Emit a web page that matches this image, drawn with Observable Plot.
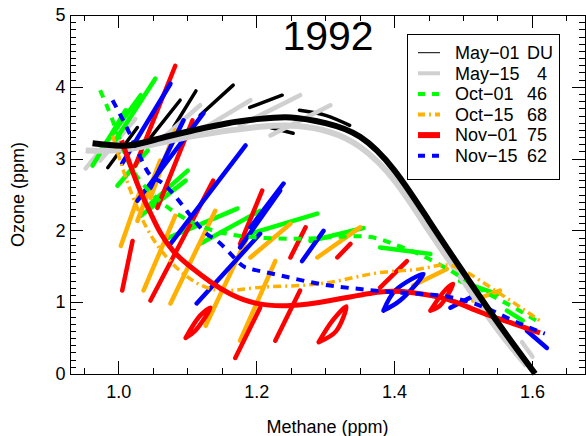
<!DOCTYPE html>
<html><head><meta charset="utf-8">
<script src="https://cdn.jsdelivr.net/npm/d3@7"></script>
<script src="https://cdn.jsdelivr.net/npm/@observablehq/plot@0.6"></script>
<style>
body{margin:0;background:#fff;}
#chart{position:relative;width:586px;height:436px;}
</style>
</head><body><div id="chart"></div>
<script>
// ---------- data ----------
const seriesNames = ["May-01","May-15","Oct-01","Oct-15","Nov-01","Nov-15"];
const legendLabels = ["May\u221201","May\u221215","Oct\u221201","Oct\u221215","Nov\u221201","Nov\u221215"];
const legendDU = ["DU","4","46","68","75","62"];
const title = "1992";
const xLabel = "Methane (ppm)";
const yLabel = "Ozone (ppm)";
const xMajorTicks = [1.0, 1.2, 1.4, 1.6];
const xMinorTicks = [0.95,1.05,1.1,1.15,1.25,1.3,1.35,1.45,1.5,1.55,1.65];
const yMajorTicks = [0,1,2,3,4,5];
const yMinorTicks = [0.1,0.2,0.3,0.4,0.5,0.6,0.7,0.8,0.9,1.1,1.2,1.3,1.4,1.5,1.6,1.7,1.8,1.9,2.1,2.2,2.3,2.4,2.5,2.6,2.7,2.8,2.9,3.1,3.2,3.3,3.4,3.5,3.6,3.7,3.8,3.9,4.1,4.2,4.3,4.4,4.5,4.6,4.7,4.8,4.9];

// fitted curves [methane, ozone]
const fitMay01 = [[0.962,3.22],[1.013,3.19],[1.060,3.29],[1.108,3.40],[1.158,3.50],[1.205,3.56],[1.250,3.58],[1.300,3.50],[1.350,3.31],[1.400,2.84],[1.450,2.14],[1.500,1.42],[1.550,0.72],[1.604,0.01]];
const fitMay15 = [[0.952,3.12],[1.013,3.14],[1.108,3.32],[1.205,3.45],[1.260,3.46],[1.305,3.38],[1.350,3.17],[1.400,2.70],[1.450,2.00],[1.500,1.30],[1.550,0.62],[1.592,0.12]];
const fitOct01 = [[0.973,3.96],[0.991,3.54],[1.010,3.05],[1.031,2.70],[1.068,2.35],[1.118,2.07],[1.176,1.93],[1.249,1.89],[1.307,1.91],[1.360,1.92],[1.398,1.82],[1.437,1.67],[1.484,1.43],[1.524,1.19],[1.568,0.96],[1.611,0.72]];
const fitOct15 = [[0.991,3.33],[1.002,2.98],[1.017,2.56],[1.039,2.07],[1.068,1.65],[1.104,1.33],[1.147,1.17],[1.201,1.21],[1.263,1.24],[1.321,1.31],[1.379,1.42],[1.437,1.47],[1.481,1.52],[1.524,1.31],[1.568,1.03],[1.611,0.75]];
const fitNov01 = [[1.004,3.26],[1.017,2.91],[1.031,2.56],[1.046,2.25],[1.060,1.98],[1.079,1.72],[1.104,1.50],[1.133,1.29],[1.162,1.12],[1.200,0.99],[1.249,0.96],[1.307,1.03],[1.379,1.15],[1.427,1.14],[1.476,1.05],[1.524,0.87],[1.572,0.71],[1.611,0.58]];
const fitNov15 = [[0.991,3.82],[1.010,3.47],[1.027,3.12],[1.046,2.77],[1.071,2.60],[1.118,2.05],[1.143,1.86],[1.172,1.58],[1.191,1.47],[1.234,1.38],[1.292,1.26],[1.350,1.19],[1.408,1.14],[1.466,1.10],[1.524,0.96],[1.572,0.75],[1.618,0.57]];

// measured streaks (each a short trajectory of points)
const streaksMay01 = [
  [[0.984,2.88],[1.027,3.44]],
  [[1.046,3.30],[1.089,3.82]],
  [[1.080,3.45],[1.112,3.95]],
  [[1.118,3.61],[1.166,4.03]],
  [[1.190,3.72],[1.237,3.89]],
  [[1.262,3.68],[1.300,3.61],[1.335,3.47]],
  [[1.220,3.44],[1.253,3.36]]
];
const streaksMay15 = [
  [[0.952,2.87],[1.000,3.43]],
  [[0.973,2.98],[1.024,3.56]],
  [[1.060,3.26],[1.118,3.75]],
  [[1.118,3.40],[1.191,3.82]],
  [[1.176,3.47],[1.263,3.89]],
  [[1.220,3.33],[1.307,3.75]],
  [[1.585,0.45],[1.600,0.25]]
];
const streaksOct01 = [
  [[0.962,2.91],[1.010,3.68]],
  [[0.973,3.12],[1.032,3.89]],
  [[0.995,3.26],[1.053,4.12]],
  [[0.998,2.63],[1.042,3.12]],
  [[1.032,2.21],[1.097,2.70]],
  [[1.046,2.38],[1.100,2.84]],
  [[1.071,1.90],[1.172,2.31]],
  [[1.118,1.82],[1.205,2.28]],
  [[1.191,1.96],[1.288,2.24]],
  [[1.278,1.86],[1.355,2.04]],
  [[1.379,1.77],[1.452,1.68]],
  [[1.495,1.30],[1.549,1.12]],
  [[1.563,0.89],[1.586,0.75]]
];
const streaksOct15 = [
  [[1.003,1.79],[1.031,2.56]],
  [[1.027,2.14],[1.060,2.98]],
  [[1.046,2.46],[1.082,3.40]],
  [[1.036,1.17],[1.082,2.21]],
  [[1.075,0.99],[1.140,2.28]],
  [[1.126,0.68],[1.184,1.86]],
  [[1.176,0.47],[1.227,1.58]],
  [[1.191,1.63],[1.249,2.10]],
  [[1.288,1.63],[1.350,2.05]],
  [[1.427,1.24],[1.476,1.47]],
  [[1.514,1.03],[1.553,1.17]]
];
const streaksNov01 = [
  [[1.024,2.91],[1.082,4.30]],
  [[1.056,2.32],[1.107,3.54]],
  [[1.046,1.03],[1.137,2.70]],
  [[1.005,1.17],[1.020,1.86]],
  [[1.176,1.82],[1.208,2.56]],
  [[1.097,0.51],[1.118,0.82],[1.133,0.93],[1.111,0.61],[1.097,0.51]],
  [[1.169,0.23],[1.205,0.93]],
  [[1.249,1.63],[1.271,2.05]],
  [[1.227,0.47],[1.263,1.17]],
  [[1.290,0.45],[1.310,0.75],[1.330,0.95],[1.315,0.60],[1.290,0.45]],
  [[1.317,1.63],[1.336,1.82]],
  [[1.379,1.21],[1.418,1.58]],
  [[1.452,0.89],[1.473,1.17],[1.485,1.26],[1.466,0.96],[1.452,0.89]]
];
const streaksNov15 = [
  [[1.005,2.94],[1.075,4.05]],
  [[1.027,2.42],[1.123,3.64]],
  [[1.046,2.60],[1.094,3.54]],
  [[1.075,1.82],[1.184,3.19]],
  [[1.113,0.99],[1.205,1.96]],
  [[1.176,1.77],[1.234,2.56]],
  [[1.191,2.05],[1.239,2.66]],
  [[1.266,1.58],[1.297,2.00]],
  [[1.384,0.89],[1.401,1.17],[1.442,1.40],[1.408,1.03],[1.384,0.89]],
  [[1.481,0.93],[1.520,1.12]],
  [[1.592,0.61],[1.621,0.37]]
];

// ---------- styles ----------
const colors = {"May-01":"#000000","May-15":"#d0d0d0","Oct-01":"#00ff00","Oct-15":"#ffb000","Nov-01":"#ff0000","Nov-15":"#0000ff"};
const fitStyle = {
  "May-01":{w:6,dash:null},
  "May-15":{w:6,dash:null},
  "Oct-01":{w:4,dash:"8,7"},
  "Oct-15":{w:3.5,dash:"8,4,2,4"},
  "Nov-01":{w:5,dash:null},
  "Nov-15":{w:4,dash:"8,7"}
};
const legendStyle = [
  {w:1,dash:null},{w:4,dash:null},{w:4,dash:"7,7"},{w:4,dash:"7,4,2,4"},{w:6,dash:null},{w:4,dash:"7,7"}
];

(function draw() {
  const streakSets = [streaksMay01, streaksMay15, streaksOct01, streaksOct15, streaksNov01, streaksNov15];
  const fitSets = [fitMay01, fitMay15, fitOct01, fitOct15, fitNov01, fitNov15];
  const streakRows = [];
  streakSets.forEach((set, si) => set.forEach((tr, ti) => tr.forEach(([x,y]) =>
    streakRows.push({series: seriesNames[si], id: seriesNames[si] + "-" + ti, x, y}))));

  const font = "'Liberation Sans', Arial, Helvetica, sans-serif";
  const W = 586, H = 436, mL = 70, mR = 1, mT = 15, mB = 62;
  const innerW = W - mL - mR, innerH = H - mT - mB;
  const majorLen = 13, minorLen = 6;

  const marks = [];
  seriesNames.forEach(s => {
    marks.push(Plot.line(streakRows.filter(d => d.series === s), {
      x: "x", y: "y", z: "id", stroke: colors[s],
      strokeWidth: s === "May-01" ? 3.5 : 4.5,
      strokeLinecap: "round", strokeLinejoin: "round", curve: "catmull-rom"
    }));
  });
  [1,2,3,4,5,0].forEach(i => {
    const s = seriesNames[i];
    marks.push(Plot.line(fitSets[i], {
      x: d => d[0], y: d => d[1], stroke: colors[s], strokeWidth: fitStyle[s].w,
      strokeDasharray: fitStyle[s].dash, curve: "natural", strokeLinecap: "butt"
    }));
  });
  marks.push(
    Plot.axisX({ticks: xMajorTicks, tickSize: 0, tickPadding: 11, tickFormat: d3.format(".1f"), label: null}),
    Plot.axisY({ticks: yMajorTicks, tickSize: 0, tickPadding: 5, tickFormat: d3.format("d"), label: null}),
    Plot.frame({stroke: "black", strokeWidth: 1})
  );

  const chart = Plot.plot({
    width: W, height: H,
    marginLeft: mL, marginRight: mR, marginTop: mT, marginBottom: mB,
    x: {domain: [0.93, 1.677]},
    y: {domain: [0, 5]},
    style: {fontFamily: font, fontSize: "18px", background: "white", color: "black"},
    marks
  });

  const svg = d3.select(chart);
  const xs = chart.scale("x"), ys = chart.scale("y");
  const yTop = mT, yBot = H - mB, xLeft = mL, xRight = W - mR;
  const tg = svg.append("g").attr("stroke","black").attr("stroke-width",1);
  [[xMajorTicks, majorLen],[xMinorTicks, minorLen]].forEach(([ticks, len]) => ticks.forEach(v => {
    const px = Math.round(xs.apply(v)) + 0.5;
    tg.append("line").attr("x1",px).attr("x2",px).attr("y1",yBot).attr("y2",yBot-len);
    tg.append("line").attr("x1",px).attr("x2",px).attr("y1",yTop).attr("y2",yTop+len);
  }));
  [[yMajorTicks, majorLen],[yMinorTicks, minorLen]].forEach(([ticks, len]) => ticks.forEach(v => {
    const py = Math.round(ys.apply(v)) + 0.5;
    tg.append("line").attr("y1",py).attr("y2",py).attr("x1",xLeft).attr("x2",xLeft+len);
    tg.append("line").attr("y1",py).attr("y2",py).attr("x1",xRight).attr("x2",xRight-len);
  }));

  svg.append("text").attr("x", mL + innerW/2).attr("y", 433).attr("text-anchor","middle")
    .attr("font-family", font).attr("font-size", 18).attr("fill","black").text(xLabel);
  svg.append("text").attr("transform", `translate(24,${mT + innerH/2}) rotate(-90)`).attr("text-anchor","middle")
    .attr("font-family", font).attr("font-size", 18).attr("fill","black").text(yLabel);
  svg.append("text").attr("x", 328).attr("y", 50).attr("text-anchor","middle")
    .attr("font-family", font).attr("font-size", 41).attr("fill","black").text(title);

  const lg = svg.append("g");
  lg.append("rect").attr("x", 407.5).attr("y", 34.5).attr("width", 152).attr("height", 145)
    .attr("fill","white").attr("stroke","black").attr("stroke-width",1);
  seriesNames.forEach((s, i) => {
    const cy = 52.7 + i * 20.6;
    lg.append("line").attr("x1", 418).attr("x2", 440).attr("y1", cy).attr("y2", cy)
      .attr("stroke", colors[s]).attr("stroke-width", legendStyle[i].w)
      .attr("stroke-dasharray", legendStyle[i].dash);
    lg.append("text").attr("x", 455).attr("y", cy).attr("dy","0.35em").attr("text-anchor","start")
      .attr("font-family", font).attr("font-size", 18).attr("fill","black").text(legendLabels[i]);
    lg.append("text").attr("x", i === 0 ? 553 : 547).attr("y", cy).attr("dy","0.35em").attr("text-anchor","end")
      .attr("font-family", font).attr("font-size", 18).attr("fill","black").text(legendDU[i]);
  });

  document.getElementById("chart").appendChild(chart);
})();
</script></body></html>
